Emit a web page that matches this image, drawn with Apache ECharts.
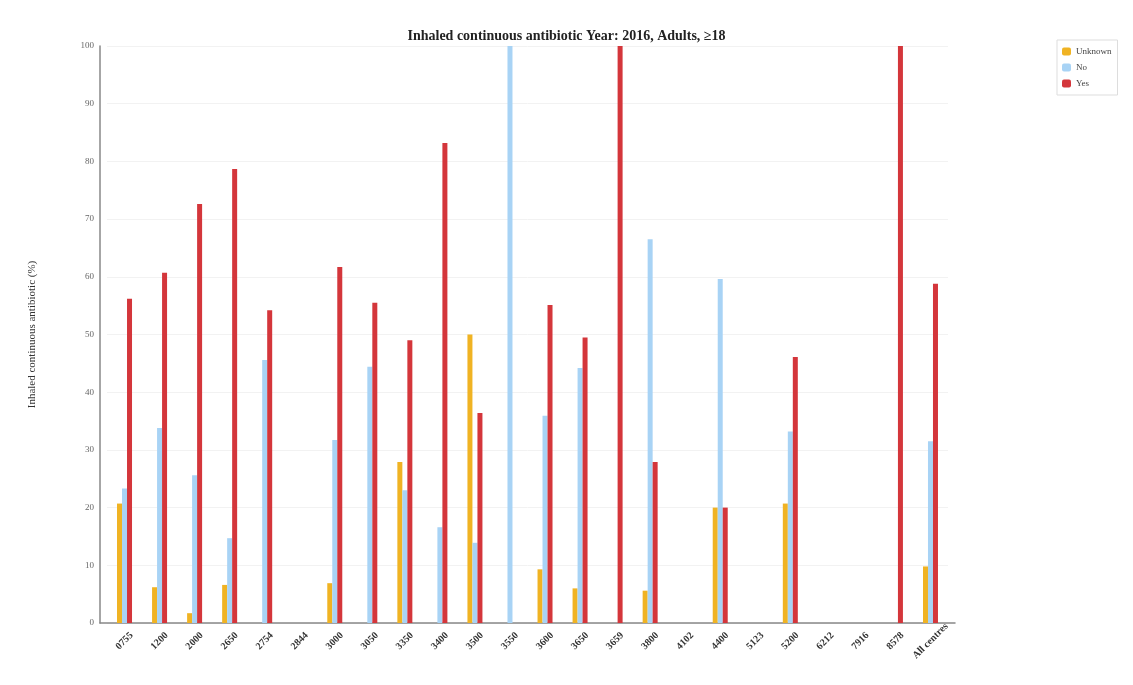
<!DOCTYPE html>
<html>
<head>
<meta charset="utf-8">
<script src="https://cdn.jsdelivr.net/npm/echarts@6/dist/echarts.min.js"></script>
<style>
html,body{margin:0;padding:0;background:#fff;}
#chart{width:1133px;height:685px;}
</style>
</head>
<body>
<div id="chart"></div>
<script>
const categories = ['0755','1200','2000','2650','2754','2844','3000','3050','3350','3400','3500','3550','3600','3650','3659','3800','4102','4400','5123','5200','6212','7916','8578','All centres'];
const unknownValues = [20.7, 6.2, 1.7, 6.6, 0, 0, 6.9, 0, 27.9, 0, 50, 0, 9.3, 6.0, 0, 5.6, 0, 20, 0, 20.7, 0, 0, 0, 9.8];
const noValues = [23.3, 33.8, 25.6, 14.7, 45.6, 0, 31.7, 44.4, 23, 16.6, 13.9, 100, 35.9, 44.2, 0, 66.5, 0, 59.6, 0, 33.2, 0, 0, 0, 31.5];
const yesValues = [56.2, 60.7, 72.6, 78.7, 54.2, 0, 61.7, 55.5, 49, 83.2, 36.4, 0, 55.1, 49.5, 100, 27.9, 0, 20, 0, 46.1, 0, 0, 100, 58.8];
const yTicks = [0, 10, 20, 30, 40, 50, 60, 70, 80, 90, 100];

const serif = '"Liberation Serif", "DejaVu Serif", serif';
const chart = echarts.init(document.getElementById('chart'));
const barStyle = (name, color, data) => ({
  name: name, type: 'bar', data: data, barWidth: 5, barGap: '0%',
  itemStyle: { color: color }, xAxisIndex: 0, yAxisIndex: 0
});
chart.setOption({
  animation: false,
  backgroundColor: '#ffffff',
  title: {
    text: 'Inhaled continuous antibiotic Year: 2016, Adults, \u226518',
    left: 'center', top: 24,
    textStyle: { fontFamily: serif, fontWeight: 'bold', fontSize: 14, color: '#222' }
  },
  legend: {
    orient: 'vertical', left: 1057, top: 40,
    padding: [7, 6, 7, 5], itemGap: 7, itemWidth: 9, itemHeight: 8,
    borderColor: '#dddddd', borderWidth: 1,
    textStyle: { fontFamily: serif, fontSize: 9, color: '#444' },
    data: ['Unknown', 'No', 'Yes']
  },
  grid: [
    { left: 107, right: 185, top: 46, bottom: 62 },
    { left: 100, right: 178, top: 46, bottom: 62 }
  ],
  xAxis: [
    {
      type: 'category', data: categories, gridIndex: 0,
      axisLine: { show: false }, axisTick: { show: false },
      axisLabel: {
        rotate: 45, interval: 0, margin: 18, align: 'center', verticalAlign: 'middle',
        fontFamily: serif, fontSize: 10, fontWeight: 'bold', color: '#333'
      }
    },
    {
      type: 'value', gridIndex: 1, min: 0, max: 1,
      axisLine: { show: true, lineStyle: { color: '#888', width: 1.5 } },
      axisTick: { show: false }, axisLabel: { show: false }, splitLine: { show: false }
    }
  ],
  yAxis: [
    {
      type: 'value', gridIndex: 0, min: 0, max: 100, interval: 10, offset: 7,
      name: 'Inhaled continuous antibiotic (%)', nameLocation: 'middle', nameGap: 62,
      nameTextStyle: { fontFamily: serif, fontSize: 11, color: '#333' },
      axisLine: { show: true, lineStyle: { color: '#888', width: 1.5 } },
      axisTick: { show: false },
      axisLabel: {
        fontFamily: serif, fontSize: 9, color: '#666', margin: 6,
        formatter: v => (yTicks.indexOf(v) >= 0 ? String(v) : '')
      },
      splitLine: { show: true, lineStyle: { color: '#f2f2f2', width: 1 } }
    },
    {
      type: 'value', gridIndex: 1, min: 0, max: 1, show: false
    }
  ],
  series: [
    barStyle('Unknown', '#f0b323', unknownValues),
    barStyle('No', '#a8d3f5', noValues),
    barStyle('Yes', '#d4363b', yesValues)
  ]
});
</script>
</body>
</html>
